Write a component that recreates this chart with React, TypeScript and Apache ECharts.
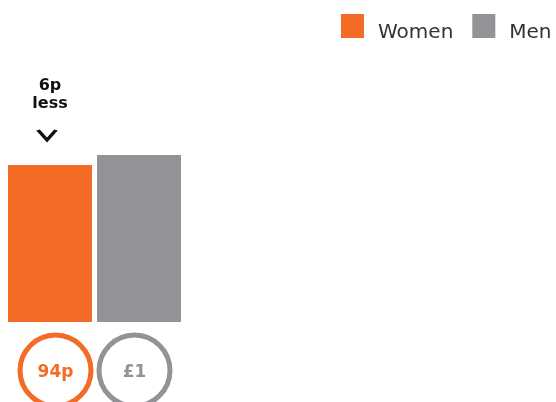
import React, { useEffect, useRef } from "react";
import * as echarts from "echarts";

const categories = ["Women", "Men"];
const womenValues: (number | string)[] = [0.94, "-"];
const menValues: (number | string)[] = ["-", 1.0];
const womenLabel = "94p";
const menLabel = "£1";
const gapLabel = "6p\nless";

const ORANGE = "#F36B24";
const GREY = "#929396";

export default function App() {
  const ref = useRef<HTMLDivElement>(null);
  useEffect(() => {
    if (!ref.current) return;
    const chart = echarts.init(ref.current, undefined, { renderer: "svg" });
    const circleLabel = (text: string, color: string, dx: number) => ({
      show: true,
      position: "bottom",
      distance: 15.5,
      offset: [dx, 0],
      formatter: text,
      width: 66,
      height: 66,
      lineHeight: 66,
      align: "center",
      borderRadius: 36,
      borderWidth: 5,
      borderColor: color,
      backgroundColor: "#fff",
      color: color,
      fontFamily: "DejaVu Sans",
      fontWeight: "bold",
      fontSize: 17,
    });
    chart.setOption({
      animation: false,
      legend: {
        left: 341,
        top: 14,
        padding: 0,
        width: 300,
        orient: "horizontal",
        itemWidth: 23,
        itemHeight: 24,
        itemGap: 19,
        icon: "rect",
        data: categories,
        formatter: "{t|{name}}",
        textStyle: {
          fontFamily: "DejaVu Sans",
          fontSize: 20,
          color: "#333",
          padding: [0, 0, 0, 9],
          rich: {
            t: {
              fontFamily: "DejaVu Sans",
              fontSize: 20,
              color: "#333",
              padding: [9, 0, 0, 0],
            },
          },
        },
      },
      grid: { left: 5.5, width: 178, top: 155, bottom: 80 },
      xAxis: {
        type: "category",
        data: categories,
        show: false,
      },
      yAxis: { type: "value", min: 0, max: 1, show: false },
      series: [
        {
          name: "Women",
          type: "bar",
          data: womenValues,
          barWidth: 84,
          barGap: "-100%",
          itemStyle: { color: ORANGE },
          label: circleLabel(womenLabel, ORANGE, 5.5),
          markPoint: {
            symbol: "path://M0,0L10,8L20,0",
            symbolSize: [18, 10],
            symbolOffset: [-3, -30],
            itemStyle: { color: "none", borderColor: "#111", borderWidth: 3 },
            label: {
              show: true,
              position: "top",
              distance: 17,
              offset: [3, 0],
              formatter: gapLabel,
              fontFamily: "DejaVu Sans",
              fontWeight: "bold",
              fontSize: 16,
              lineHeight: 18,
              color: "#111",
              align: "center",
            },
            data: [{ coord: [0, womenValues[0]] }],
          },
        },
        {
          name: "Men",
          type: "bar",
          data: menValues,
          barWidth: 84,
          itemStyle: { color: GREY },
          label: circleLabel(menLabel, GREY, -4.5),
        },
      ],
    });
    return () => chart.dispose();
  }, []);
  return (
    <div
      ref={ref}
      style={{ position: "fixed", left: 0, top: 0, width: 556, height: 402 }}
    />
  );
}
